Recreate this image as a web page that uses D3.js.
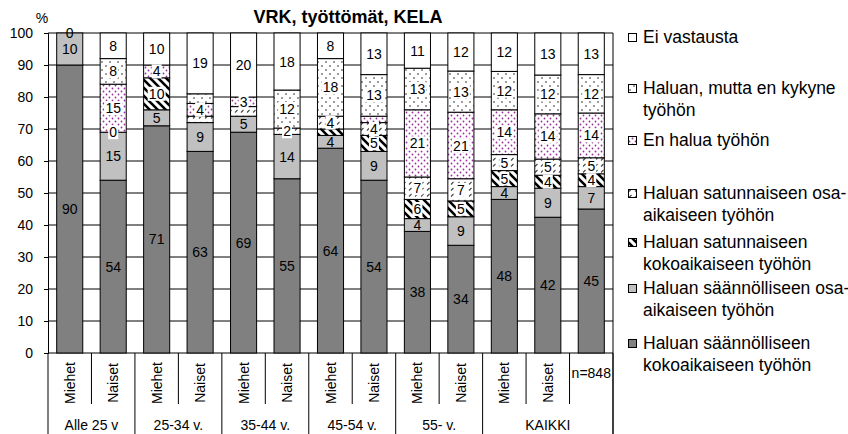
<!DOCTYPE html>
<html>
<head>
<meta charset="utf-8">
<script src="https://cdn.jsdelivr.net/npm/d3@7"></script>
<style>
    body { margin: 0; background: white; }
    text { font-family: "Liberation Sans", Arial, sans-serif; fill: black; }
</style>
</head>
<body>
<div id="chart"></div>
<script>
// Data (percent values per bar)
const groups = ["Alle 25 v", "25-34 v.", "35-44 v.", "45-54 v.", "55- v.", "KAIKKI"];
const barLabels = ["Miehet", "Naiset", "Miehet", "Naiset", "Miehet", "Naiset", "Miehet", "Naiset",
    "Miehet", "Naiset", "Miehet", "Naiset", "n=848"];
const barGroup = [0, 0, 1, 1, 2, 2, 3, 3, 4, 4, 5, 5, 5];

const saannKoko = [90, 54, 71, 63, 69, 55, 64, 54, 38, 34, 48, 42, 45];
const saannOsa = [10, 15, 5, 9, 5, 14, 4, 9, 4, 9, 4, 9, 7];
const satKoko = [0, 0, 10, 0, 0, 0, 2, 5, 6, 5, 5, 4, 4];
const satOsa = [0, 0, 0, 2, 3, 2, 4, 4, 7, 7, 5, 5, 5];
const enHalua = [0, 15, 4, 4, 3, 0, 0, 2, 21, 21, 14, 14, 14];
const enKykene = [0, 8, 0, 3, 0, 12, 18, 13, 13, 13, 12, 12, 12];
const eiVast = [0, 8, 10, 19, 20, 18, 8, 13, 11, 12, 12, 13, 13];

const seriesNames = [
    ["Haluan säännölliseen", "kokoaikaiseen työhön"],
    ["Haluan säännölliseen osa-", "aikaiseen työhön"],
    ["Haluan satunnaiseen", "kokoaikaiseen työhön"],
    ["Haluan satunnaiseen osa-", "aikaiseen työhön"],
    ["En halua työhön"],
    ["Haluan, mutta en kykyne", "työhön"],
    ["Ei vastausta"]
];
const yTicks = [0, 10, 20, 30, 40, 50, 60, 70, 80, 90, 100];

const width = 848, height = 434;
const plot = { left: 48, right: 613, top: 33, bottom: 353 };

let svg = d3.select("#chart")
    .append("svg")
    .attr("width", width)
    .attr("height", height);

// fill patterns
let defs = svg.append("defs");

function newPattern(id, size) {
    let p = defs.append("pattern")
        .attr("id", id)
        .attr("patternUnits", "userSpaceOnUse")
        .attr("width", size)
        .attr("height", size);
    p.append("rect").attr("width", size).attr("height", size).attr("fill", "white");
    return p;
}

newPattern("pStripe", 8)
    .append("path")
    .attr("d", "M-2,-2 L10,10 M-2,6 L2,10 M6,-2 L10,2")
    .attr("stroke", "black")
    .attr("stroke-width", 2.6);

newPattern("pDash", 6)
    .append("path")
    .attr("d", "M1,4.5 L3.5,2")
    .attr("stroke", "#444")
    .attr("stroke-width", 1.1);

let purple = newPattern("pPurple", 6);
purple.append("circle").attr("cx", 1.5).attr("cy", 1.5).attr("r", 0.9).attr("fill", "#993399");
purple.append("circle").attr("cx", 4.5).attr("cy", 4.5).attr("r", 0.9).attr("fill", "#993399");

let dots = newPattern("pDots", 8);
dots.append("circle").attr("cx", 2).attr("cy", 2).attr("r", 0.8).attr("fill", "#222");
dots.append("circle").attr("cx", 6).attr("cy", 6).attr("r", 0.8).attr("fill", "#222");

const fills = ["#808080", "#c0c0c0", "url(#pStripe)", "url(#pDash)", "url(#pPurple)", "url(#pDots)", "white"];

// scales
let x = d3.scaleBand()
    .domain(d3.range(barLabels.length))
    .range([plot.left, plot.right])
    .paddingInner(0.4)
    .paddingOuter(0.2);

let y = d3.scaleLinear()
    .domain([0, 100])
    .range([plot.bottom, plot.top]);

// gridlines
svg.append("g")
    .selectAll("line")
    .data(yTicks)
    .enter()
    .append("line")
    .attr("x1", plot.left)
    .attr("x2", plot.right)
    .attr("y1", d => y(d))
    .attr("y2", d => y(d))
    .attr("stroke", "black")
    .attr("stroke-width", 1);

// right border of plot area, runs down through the category area
svg.append("line")
    .attr("x1", plot.right).attr("x2", plot.right)
    .attr("y1", plot.top).attr("y2", height)
    .attr("stroke", "black");

// y axis
let yAxis = svg.append("g")
    .attr("transform", `translate(${plot.left},0)`)
    .call(d3.axisLeft(y).tickValues(yTicks).tickSize(4).tickPadding(11));
yAxis.select(".domain").attr("stroke", "black");
yAxis.selectAll("text")
    .style("font-size", "14px")
    .style("font-family", "Liberation Sans, Arial, sans-serif")
    .attr("fill", "black");

svg.append("text")
    .attr("x", 42)
    .attr("y", 23)
    .attr("text-anchor", "middle")
    .style("font-size", "14px")
    .text("%");

svg.append("text")
    .attr("x", 348)
    .attr("y", 23)
    .attr("text-anchor", "middle")
    .style("font-size", "18px")
    .style("font-weight", "bold")
    .text("VRK, työttömät, KELA");

// stack the series, Excel style 100% stacked
const series = [saannKoko, saannOsa, satKoko, satOsa, enHalua, enKykene, eiVast];
let rows = barLabels.map(function (lbl, i) {
    let total = d3.sum(series, s => s[i]);
    let acc = 0;
    return series.map(function (s, k) {
        let seg = { bar: i, k: k, value: s[i], y0: acc / total * 100, y1: (acc + s[i]) / total * 100 };
        acc += s[i];
        return seg;
    });
});
let segments = rows.flat();

svg.append("g")
    .selectAll("rect")
    .data(segments)
    .enter()
    .append("rect")
    .attr("x", d => x(d.bar))
    .attr("width", x.bandwidth())
    .attr("y", d => y(d.y1))
    .attr("height", d => y(d.y0) - y(d.y1))
    .attr("fill", d => fills[d.k])
    .attr("stroke", "black")
    .attr("stroke-width", 1);

// data labels: in small segments the labels pile up, bigger values win,
// zeros come last and upper series win ties
let shown = [];
rows.forEach(function (row) {
    let order = row.slice().sort((a, b) =>
        (b.value > 0) - (a.value > 0) || b.value - a.value || b.k - a.k);
    let kept = [];
    order.forEach(function (seg) {
        seg.ly = y((seg.y0 + seg.y1) / 2);
        if (kept.every(o => Math.abs(o.ly - seg.ly) >= 14)) kept.push(seg);
    });
    shown = shown.concat(kept.sort((a, b) => a.k - b.k));
});

let labels = svg.append("g")
    .selectAll("g")
    .data(shown)
    .enter()
    .append("g")
    .attr("transform", d => `translate(${x(d.bar) + x.bandwidth() / 2},${d.ly})`);

labels.filter(d => d.k >= 2 && d.k <= 5)
    .append("rect")
    .attr("x", d => d.value >= 10 ? -9 : -5)
    .attr("width", d => d.value >= 10 ? 18 : 10)
    .attr("y", -7)
    .attr("height", 14)
    .attr("fill", "white");

labels.append("text")
    .attr("text-anchor", "middle")
    .attr("dy", "0.36em")
    .style("font-size", "14px")
    .text(d => d.value);

// category axis below the plot
let xa = svg.append("g");
const step = x.step();
for (let i = 0; i <= barLabels.length; i++) {
    let bx = plot.left + i * step;
    let groupEdge = i == 0 || i == barLabels.length || barGroup[i] != barGroup[i - 1];
    xa.append("line")
        .attr("x1", bx).attr("x2", bx)
        .attr("y1", plot.bottom)
        .attr("y2", groupEdge ? height : 404)
        .attr("stroke", "black");
}

xa.selectAll(".cat")
    .data(barLabels)
    .enter()
    .append("text")
    .attr("class", "cat")
    .style("font-size", "14px")
    .attr("text-anchor", "middle")
    .attr("transform", function (d, i) {
        let cx = plot.left + (i + 0.5) * step;
        if (d == "n=848") return `translate(${cx},378)`;
        return `translate(${cx + 5},383) rotate(-90)`;
    })
    .text(d => d);

xa.selectAll(".grp")
    .data(groups)
    .enter()
    .append("text")
    .attr("class", "grp")
    .style("font-size", "14px")
    .attr("text-anchor", "middle")
    .attr("x", function (d, g) {
        let idx = barGroup.map((v, i) => v == g ? i : -1).filter(i => i != -1);
        return plot.left + (idx[0] + idx[idx.length - 1] + 1) / 2 * step;
    })
    .attr("y", 430)
    .text(d => d);

// legend, top item is the top of the stack
const legendY = [343, 288, 242, 193, 140, 88, 37];
let legend = svg.append("g")
    .selectAll("g")
    .data(seriesNames)
    .enter()
    .append("g")
    .attr("transform", (d, k) => `translate(628,${legendY[k]})`);

legend.append("rect")
    .attr("x", 0.5)
    .attr("y", -3.5)
    .attr("width", 8)
    .attr("height", 8)
    .attr("fill", (d, k) => fills[k])
    .attr("stroke", "black");

legend.each(function (d) {
    let g = d3.select(this);
    d.forEach(function (line, j) {
        g.append("text")
            .attr("x", 15)
            .attr("y", j * 22)
            .attr("dy", "0.36em")
            .style("font-size", "17.5px")
            .text(line);
    });
});
</script>
</body>
</html>
